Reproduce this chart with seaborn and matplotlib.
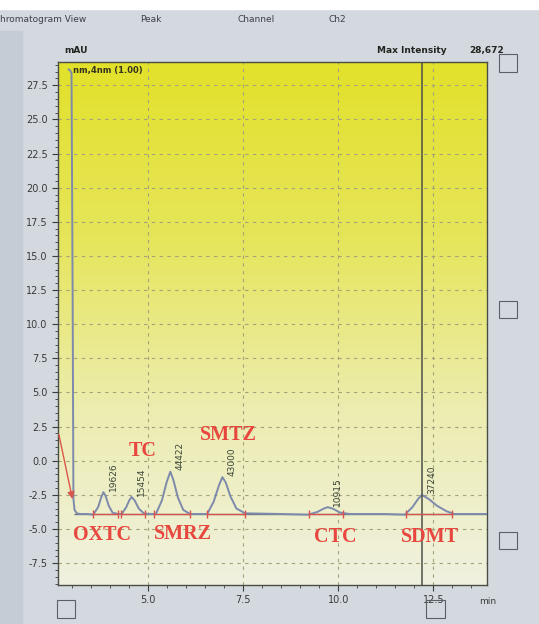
import numpy as np
import pandas as pd
import matplotlib.pyplot as plt
import seaborn as sns
from matplotlib.colors import LinearSegmentedColormap

# chromatogram trace (min, mAU)
time = [2.90, 2.94, 2.98, 3.01, 3.03, 3.06, 3.12, 3.20, 3.40,
        3.55, 3.68, 3.76, 3.82, 3.88, 3.96, 4.06, 4.20,
        4.30, 4.42, 4.50, 4.56, 4.64, 4.75, 4.88, 5.00,
        5.20, 5.36, 5.48, 5.58, 5.66, 5.78, 5.92, 6.10,
        6.55, 6.72, 6.86, 6.95, 7.04, 7.16, 7.32, 7.55,
        8.50, 9.20, 9.45, 9.62, 9.72, 9.85, 10.05, 10.30,
        11.20, 11.75, 11.95, 12.10, 12.20, 12.38, 12.60, 12.85, 13.05, 13.92]
mau = [28.67, 28.6, 28.4, 12.0, -2.8, -3.6, -3.85, -3.9, -3.9,
       -3.95, -3.4, -2.7, -2.3, -2.6, -3.3, -3.8, -3.9,
       -3.9, -3.4, -2.9, -2.65, -2.9, -3.5, -3.85, -3.9,
       -3.9, -2.9, -1.6, -0.8, -1.4, -2.7, -3.6, -3.9,
       -3.9, -3.0, -1.8, -1.2, -1.6, -2.6, -3.5, -3.85,
       -3.9, -3.95, -3.75, -3.5, -3.4, -3.5, -3.8, -3.9,
       -3.9, -3.95, -3.4, -2.8, -2.5, -2.8, -3.3, -3.7, -3.9, -3.9]

baseline = -3.9
peak_names = ["OXTC", "TC", "SMRZ", "SMTZ", "CTC", "SDMT"]
peak_time = [3.82, 4.56, 5.58, 6.95, 9.72, 12.20]
peak_top = [-2.3, -2.65, -0.8, -1.2, -3.4, -2.5]
peak_area = ["19626", "15454", "44422", "43000", "10915", "37240"]
peak_start = [3.55, 4.28, 5.16, 6.55, 9.22, 11.78]
peak_end = [4.20, 4.92, 6.10, 7.55, 10.12, 13.00]
name_pos_t = [3.78, 4.86, 5.92, 7.10, 9.92, 12.42]
name_pos_y = [-5.45, 0.7, -5.4, 1.9, -5.6, -5.6]

yticks = [27.5, 25.0, 22.5, 20.0, 17.5, 15.0, 12.5, 10.0, 7.5, 5.0, 2.5, 0.0, -2.5, -5.0, -7.5]
xticks = [5.0, 7.5, 10.0, 12.5]

df = pd.DataFrame({"min": time, "mAU": mau})

sns.set_style("ticks")
plt.rcParams['font.family'] = ['DejaVu Sans']

fig = plt.figure(figsize=(5.39, 6.24), dpi=100, facecolor="#d3d9de")
ax = fig.add_axes([0.108, 0.0625, 0.796, 0.838])

# slightly darker strip on the left of the window
fig.patches.append(plt.Rectangle((0, 0), 0.04, 0.95, transform=fig.transFigure,
                                 color="#c4ccd6", zorder=0))

# yellow screen gradient
grad = np.linspace(0, 1, 256).reshape(-1, 1)
cmap = LinearSegmentedColormap.from_list("scr", ["#f0f1e0", "#ecedb0", "#e6e55a", "#e2e12a"])
ax.imshow(grad, aspect="auto", cmap=cmap, origin="lower", extent=[0, 1, 0, 1],
          transform=ax.transAxes, zorder=0)

for y in yticks:
    ax.axhline(y, color="#a3a27a", lw=0.8, ls=(0, (3, 4)), zorder=1)
for x in xticks:
    ax.axvline(x, color="#a3a27a", lw=0.8, ls=(0, (3, 4)), zorder=1)

ax.hlines(baseline, 3.05, 13.92, color="#70757a", lw=1.0, zorder=2)
sns.lineplot(data=df, x="min", y="mAU", ax=ax, color="#7d8aab", lw=1.4,
             sort=False, estimator=None, zorder=3)

# integration marks
ax.hlines([baseline] * len(peak_start), peak_start, peak_end, color="#e0504a", lw=0.9, zorder=4)
ax.plot(peak_start + peak_end, [baseline] * (2 * len(peak_start)), ls="none",
        marker="|", ms=6, color="#e0504a", zorder=4)
ax.annotate("", xy=(3.02, -3.0), xytext=(2.63, 2.15),
            arrowprops=dict(arrowstyle="-|>", color="#d9564a", lw=1.0), zorder=4)

# cursor line
ax.axvline(12.2, color="#4d5048", lw=1.1, zorder=3)

for t, top, area in zip(peak_time, peak_top, peak_area):
    ax.text(t + 0.26, top + 0.1, area, rotation=90, ha="center", va="bottom",
            fontsize=6.5, color="#3c4638", zorder=5)
for name, t, y in zip(peak_names, name_pos_t, name_pos_y):
    ax.text(t, y, name, ha="center", va="center", fontsize=14.5, fontweight="bold",
            family="Liberation Serif", color="#e8473f", zorder=5)

ax.text(0.035, 0.992, "nm,4nm (1.00)", transform=ax.transAxes, fontsize=6,
        fontweight="bold", color="#33331f", va="top", zorder=5)

ax.set_xlim(2.63, 13.92)
ax.set_ylim(-9.1, 29.2)
ax.set_xticks(xticks)
ax.set_yticks(yticks)
ax.set_xticklabels([f"{v:.1f}" for v in xticks])
ax.set_yticklabels([f"{v:.1f}" for v in yticks])
ax.set_xticks(np.arange(3.0, 14.0, 0.5), minor=True)
ax.set_yticks(np.arange(-9.0, 29.1, 0.5), minor=True)
ax.tick_params(axis="both", which="major", labelsize=7, colors="#3a3a3a", length=4, width=0.8)
ax.tick_params(axis="both", which="minor", length=2, width=0.6, colors="#3a3a3a")
ax.set_xlabel("")
ax.set_ylabel("")
for s in ax.spines.values():
    s.set_visible(True)
    s.set_color("#4a4d46")
    s.set_linewidth(1.0)

# window chrome
fig.patches.append(plt.Rectangle((0, 0.985), 1, 0.015, transform=fig.transFigure,
                                 color="white", zorder=0))
for bx, by in [(0.925, 0.885), (0.925, 0.49), (0.925, 0.12), (0.105, 0.01), (0.79, 0.01)]:
    fig.patches.append(plt.Rectangle((bx, by), 0.035, 0.028, transform=fig.transFigure,
                                     fill=False, ec="#5a6068", lw=0.8, zorder=1))
fig.text(0.0, 0.965, "hromatogram View", fontsize=6.5, color="#3d4047")
fig.text(0.26, 0.965, "Peak", fontsize=6.5, color="#3d4047")
fig.text(0.44, 0.965, "Channel", fontsize=6.5, color="#3d4047")
fig.text(0.61, 0.965, "Ch2", fontsize=6.5, color="#3d4047")
fig.text(0.12, 0.915, "mAU", fontsize=6.5, fontweight="bold", color="#22241f")
fig.text(0.70, 0.915, "Max Intensity", fontsize=6.5, fontweight="bold", color="#22241f")
fig.text(0.87, 0.915, "28,672", fontsize=6.5, fontweight="bold", color="#22241f")
fig.text(0.905, 0.032, "min", fontsize=6.5, ha="center", color="#3a3a3a")

fig.savefig("out.png", dpi=100, facecolor=fig.get_facecolor())
